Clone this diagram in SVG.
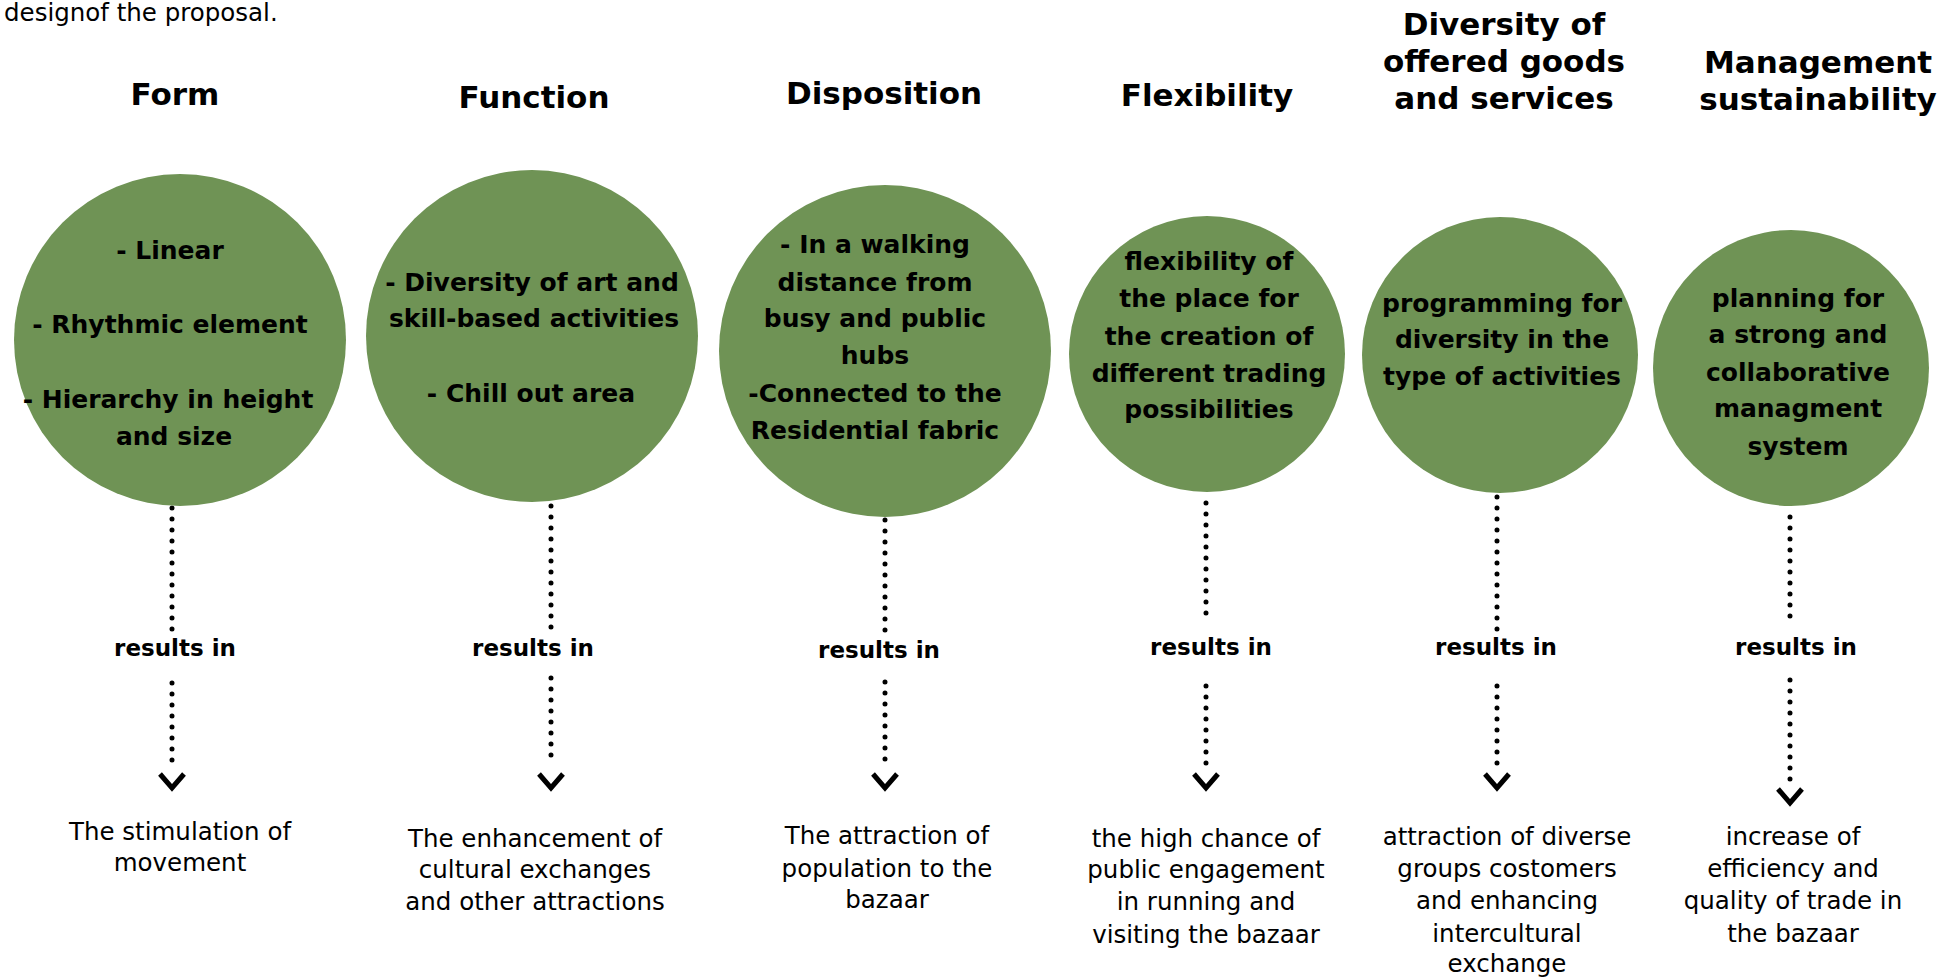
<svg xmlns="http://www.w3.org/2000/svg" width="1959" height="979" viewBox="0 0 1959 979">
<style>
.bg{fill:#ffffff}
.circ{fill:#6f9355}
.title{font-family:"DejaVu Sans","Liberation Sans",sans-serif;font-weight:bold;font-size:31px;fill:#000;text-anchor:middle}
.inner{font-family:"DejaVu Sans","Liberation Sans",sans-serif;font-weight:bold;font-size:25px;fill:#000;text-anchor:middle}
.res{font-family:"DejaVu Sans","Liberation Sans",sans-serif;font-weight:bold;font-size:23px;fill:#000;text-anchor:middle}
.out{font-family:"DejaVu Sans","Liberation Sans",sans-serif;font-weight:normal;font-size:24.5px;fill:#000;text-anchor:middle}
.cap{font-family:"DejaVu Sans","Liberation Sans",sans-serif;font-weight:normal;font-size:24.5px;fill:#000}
.dots{fill:none;stroke:#000;stroke-width:5;stroke-linecap:round;stroke-dasharray:0 11}
.arr{fill:none;stroke:none;marker-end:url(#chev)}
</style>
<defs>
<marker id="chev" markerUnits="userSpaceOnUse" viewBox="-16 -22 32 24" markerWidth="32" markerHeight="24" refX="0" refY="0" orient="0">
<path d="M -12 -18 L 0 -4 L 12 -18" fill="none" stroke="#000" stroke-width="5" stroke-linejoin="miter"/>
</marker>
</defs>
<rect class="bg" x="0" y="0" width="1959" height="979"/>
<text class="cap" x="4" y="21">designof the proposal.</text>

<g id="connectors">
<path class="dots" d="M 172 508 V 635"/>
<path class="dots" d="M 172 683 V 765"/>
<path class="arr" d="M 172 782 V 792"/>
<path class="dots" d="M 551 506 V 633"/>
<path class="dots" d="M 551 678 V 765"/>
<path class="arr" d="M 551 782 V 792"/>
<path class="dots" d="M 885 520 V 632"/>
<path class="dots" d="M 885 682 V 765"/>
<path class="arr" d="M 885 782 V 792"/>
<path class="dots" d="M 1206 503 V 623"/>
<path class="dots" d="M 1206 686 V 765"/>
<path class="arr" d="M 1206 782 V 792"/>
<path class="dots" d="M 1497 497 V 632"/>
<path class="dots" d="M 1497 686 V 765"/>
<path class="arr" d="M 1497 782 V 792"/>
<path class="dots" d="M 1790 517 V 627"/>
<path class="dots" d="M 1790 680 V 780"/>
<path class="arr" d="M 1790 797 V 807"/>
</g>

<g id="form">
<text class="title" x="175" y="105">Form</text>
<circle class="circ" cx="180" cy="340" r="166"/>
<text class="inner" x="170" y="259">- Linear</text>
<text class="inner" x="170" y="333">- Rhythmic element</text>
<text class="inner" x="168" y="408">- Hierarchy in height</text>
<text class="inner" x="174" y="445">and size</text>
<text class="res" x="175" y="656">results in</text>
<text class="out" x="180" y="840">The stimulation of</text>
<text class="out" x="180" y="871">movement</text>
</g>

<g id="function">
<text class="title" x="534" y="108">Function</text>
<circle class="circ" cx="532" cy="336" r="166"/>
<text class="inner" x="532" y="291">- Diversity of art and</text>
<text class="inner" x="534" y="327">skill-based activities</text>
<text class="inner" x="531" y="402">- Chill out area</text>
<text class="res" x="533" y="656">results in</text>
<text class="out" x="535" y="847">The enhancement of</text>
<text class="out" x="535" y="878">cultural exchanges</text>
<text class="out" x="535" y="910">and other attractions</text>
</g>

<g id="disposition">
<text class="title" x="884" y="104">Disposition</text>
<circle class="circ" cx="885" cy="351" r="166"/>
<text class="inner" x="875" y="253">- In a walking</text>
<text class="inner" x="875" y="291">distance from</text>
<text class="inner" x="875" y="327">busy and public</text>
<text class="inner" x="875" y="364">hubs</text>
<text class="inner" x="875" y="402">-Connected to the</text>
<text class="inner" x="875" y="439">Residential fabric</text>
<text class="res" x="879" y="658">results in</text>
<text class="out" x="887" y="844">The attraction of</text>
<text class="out" x="887" y="877">population to the</text>
<text class="out" x="887" y="908">bazaar</text>
</g>

<g id="flexibility">
<text class="title" x="1207" y="106">Flexibility</text>
<circle class="circ" cx="1207" cy="354" r="138"/>
<text class="inner" x="1209" y="270">flexibility of</text>
<text class="inner" x="1209" y="307">the place for</text>
<text class="inner" x="1209" y="345">the creation of</text>
<text class="inner" x="1209" y="382">different trading</text>
<text class="inner" x="1209" y="418">possibilities</text>
<text class="res" x="1211" y="655">results in</text>
<text class="out" x="1206" y="847">the high chance of</text>
<text class="out" x="1206" y="878">public engagement</text>
<text class="out" x="1206" y="910">in running and</text>
<text class="out" x="1206" y="943">visiting the bazaar</text>
</g>

<g id="diversity">
<text class="title" x="1504" y="35">Diversity of</text>
<text class="title" x="1504" y="72">offered goods</text>
<text class="title" x="1504" y="109">and services</text>
<circle class="circ" cx="1500" cy="355" r="138"/>
<text class="inner" x="1502" y="312">programming for</text>
<text class="inner" x="1502" y="348">diversity in the</text>
<text class="inner" x="1502" y="385">type of activities</text>
<text class="res" x="1496" y="655">results in</text>
<text class="out" x="1507" y="845">attraction of diverse</text>
<text class="out" x="1507" y="877">groups costomers</text>
<text class="out" x="1507" y="909">and enhancing</text>
<text class="out" x="1507" y="942">intercultural</text>
<text class="out" x="1507" y="972">exchange</text>
</g>

<g id="management">
<text class="title" x="1818" y="73">Management</text>
<text class="title" x="1818" y="110">sustainability</text>
<circle class="circ" cx="1791" cy="368" r="138"/>
<text class="inner" x="1798" y="307">planning for</text>
<text class="inner" x="1798" y="343">a strong and</text>
<text class="inner" x="1798" y="381">collaborative</text>
<text class="inner" x="1798" y="417">managment</text>
<text class="inner" x="1798" y="455">system</text>
<text class="res" x="1796" y="655">results in</text>
<text class="out" x="1793" y="845">increase of</text>
<text class="out" x="1793" y="877">efficiency and</text>
<text class="out" x="1793" y="909">quality of trade in</text>
<text class="out" x="1793" y="942">the bazaar</text>
</g>
</svg>
